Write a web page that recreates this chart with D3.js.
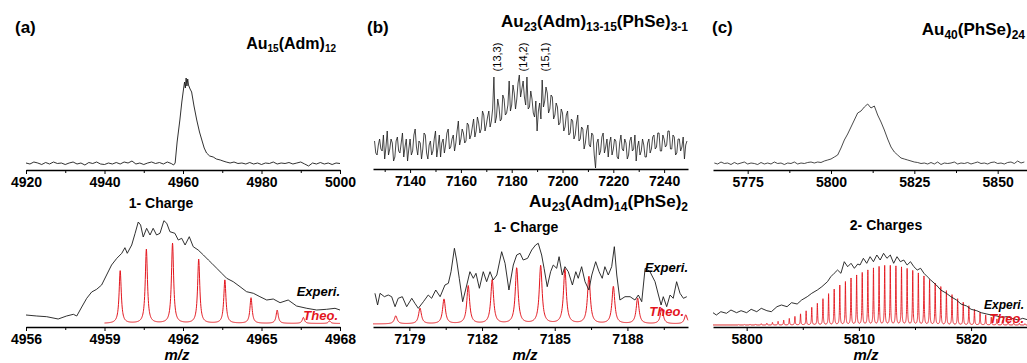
<!DOCTYPE html>
<html>
<head>
<meta charset="utf-8">
<script src="https://cdn.jsdelivr.net/npm/d3@7"></script>
<style>
  body { margin: 0; background: #fff; }
  svg { display: block; font-family: "Liberation Sans", Arial, sans-serif; }
</style>
</head>
<body>
<svg id="chart" width="1027" height="363"></svg>
<script>
// ---- data (intensity in arbitrary units) ----

// (a) top: full-range spectrum of Au15(Adm)12
const aTopTrace = [
  [4920,7],[4921,6],[4922,8],[4923,7],[4924,5.5],[4925,7.5],[4926,6],[4927,8],[4928,6.5],[4929,7],
  [4930,5.5],[4931,7],[4932,8],[4933,6],[4934,7],[4935,5],[4936,7.5],[4937,6.5],[4938,8],[4939,6],
  [4940,5.5],[4941,7],[4942,6],[4943,7.5],[4944,6],[4945,8],[4946,7],[4947,9],[4948,6],[4949,7],
  [4950,5.5],[4951,7],[4952,8],[4953,6.5],[4954,7.5],[4955,6],[4956,8],[4957,6.5],[4957.6,5],[4958,7],
  [4958.5,28],[4959.2,50],[4959.7,68],[4960.1,80],[4960.4,88],[4960.6,82],[4960.8,92],[4961,84],
  [4961.2,91],[4961.4,85],[4961.8,81],[4962.2,78],[4962.8,64],[4963.5,50],[4964.2,38],[4964.8,30],
  [4965.4,22],[4966,17],[4966.8,14],[4967.7,13],[4968.5,11],[4969.5,10],[4970.2,9],[4971,8],
  [4972,7],[4973,8],[4974,6.5],[4975,7],[4976,6],[4977,7.5],[4978,6],[4979,7],[4980,5.5],[4981,7],
  [4982,6.5],[4983,8],[4984,6],[4985,7],[4986,6.5],[4987,7.5],[4988,6],[4989,7],[4990,8],[4991,6],
  [4992,4],[4993,7],[4994,6],[4995,7.5],[4996,6],[4997,7],[4998,5.5],[4999,7],[5000,6.5]
];

// (a) bottom: isotope-resolved, 1- charge
const aExpTrace = [
  [4956,12],[4956.41,11],[4956.79,10.3],[4957.23,8],[4957.55,11],[4957.81,12.7],[4957.94,11],
  [4958.13,20],[4958.32,28.7],[4958.51,35],[4958.7,37.7],[4958.89,42],[4959.08,52],[4959.27,62],
  [4959.47,68.7],[4959.66,73.7],[4959.78,79.3],[4959.87,73.7],[4960.04,82],[4960.17,93.7],
  [4960.29,105],[4960.38,102],[4960.48,90],[4960.61,98.7],[4960.74,92],[4960.86,98.7],[4960.99,92],
  [4961.12,93.7],[4961.27,106.3],[4961.38,103.7],[4961.5,95.3],[4961.69,93.7],[4961.82,87],
  [4961.95,88.7],[4962.08,82],[4962.24,90.3],[4962.39,80.3],[4962.58,77],[4962.78,72],[4962.97,67],
  [4963.1,63.7],[4963.29,58.7],[4963.48,53.7],[4963.67,48.7],[4963.92,45.3],[4964.18,40.3],
  [4964.43,35.3],[4964.69,33.7],[4964.94,30.3],[4965.2,27],[4965.45,28],[4965.71,24.3],[4966.02,27],
  [4966.34,21],[4966.73,18.7],[4967.11,17],[4967.49,17.7],[4967.81,18.7],[4968,17]
];
const aTheoCenters = [4959.6, 4960.6, 4961.6, 4962.6, 4963.6, 4964.6, 4965.6, 4966.6, 4967.6];
const aTheoHeights = [52.6, 74, 80, 64, 43.3, 25.6, 13.3, 6, 2.6];

// (b) top: Au23(Adm)13-15(PhSe)3-1, one point every 0.5 m/z from 7126
const bTopStart = 7126;
const bTopStep = 0.5;
const bTopIntensity = [
  28,16, 14,24, 30,20, 18,34, 10,22, 38,14, 20,30, 26,8, 12,28, 32,18,
  16,26, 36,12, 22,30, 8,20, 30,14, 18,34, 40,22, 14,28, 26,10, 20,36,
  34,16, 10,24, 28,14, 18,30, 38,12, 22,34, 12,26, 30,16, 24,36, 40,20,
  22,30, 34,18, 26,38, 48,24, 30,40, 36,26, 28,46, 44,30, 34,42, 50,32,
  38,52, 46,36, 40,58, 54,38, 44,52, 58,42, 48,60, 92,46, 52,70, 62,48,
  50,74, 70,54, 56,64, 88,58, 64,84, 76,60, 70,86, 94,72, 80,88, 72,64,
  92,60, 62,78, 70,56, 52,68, 38,58, 66,50, 89,62, 68,82, 76,56, 60,74,
  72,50, 54,66, 62,44, 46,60, 56,38, 42,54, 58,34, 36,50, 48,30, 34,46,
  54,28, 30,42, 40,20, 26,38, 44,24, 22,36, 34,14, 1,26, 30,14, 18,32,
  36,16, 22,30, 12,26, 32,14, 20,30, 28,12, 10,26, 34,20, 18,30, 26,10,
  14,28, 32,18, 20,34, 8,22, 28,14, 18,30, 24,12, 12,26, 30,16, 20,32,
  34,20, 22,36, 36,18, 18,34, 30,22, 24,38, 38,20, 20,34, 32,14, 16,30,
  30,18, 22,32, 10,24, 28
];
const bTopLabels = ["(13,3)", "(14,2)", "(15,1)"];
const bTopLabelMz = [7174.4, 7184.5, 7193.1];

// (b) bottom: Au23(Adm)14(PhSe)2, 1- charge
const bExpTrace = [
  [7177.58,33.7],[7177.69,22],[7177.79,33.7],[7177.97,30.3],[7178.13,32],[7178.27,30.3],[7178.41,20.3],
  [7178.54,28.7],[7178.71,30.3],[7178.89,20.3],[7179.1,28.7],[7179.23,23.7],[7179.37,18.7],[7179.58,25.3],
  [7179.78,32],[7179.92,28.7],[7180.09,37],[7180.27,30.3],[7180.47,42],[7180.61,43.7],[7180.72,55.3],
  [7180.86,78.7],[7180.95,67],[7181.06,48.7],[7181.2,25.3],[7181.37,42],[7181.5,55.3],[7181.64,48.7],
  [7181.75,53.7],[7181.89,38.7],[7182.05,55.3],[7182.19,45.3],[7182.33,55.3],[7182.46,47],[7182.61,52],
  [7182.81,75.3],[7182.95,63.7],[7183.11,37],[7183.29,62],[7183.43,72],[7183.57,73.7],[7183.7,67],
  [7183.88,68.7],[7184.05,77],[7184.21,82],[7184.32,83.7],[7184.46,72],[7184.56,58.7],[7184.69,40.3],
  [7184.83,55.3],[7184.94,62],[7185.08,58.7],[7185.18,70.3],[7185.31,52],[7185.42,60.3],[7185.56,55.3],
  [7185.73,42],[7185.87,55.3],[7185.97,48.7],[7186.11,60.3],[7186.25,45.3],[7186.41,37],[7186.53,52],
  [7186.69,65.3],[7186.83,55.3],[7186.96,48.7],[7187.07,60.3],[7187.21,52],[7187.35,60.3],[7187.46,80.3],
  [7187.56,52],[7187.69,27],[7187.9,30.3],[7188.11,30.3],[7188.31,27],[7188.45,32],[7188.59,25.3],
  [7188.73,58.7],[7188.93,55.3],[7189.14,45.3],[7189.28,32],[7189.39,22],[7189.48,30.3],[7189.62,20.3],
  [7189.76,32],[7189.89,28.7],[7190.03,45.3],[7190.17,33.7],[7190.31,28.7],[7190.45,30.3]
];
const bTheoCenters = [7178.44, 7179.44, 7180.43, 7181.43, 7182.42, 7183.43, 7184.42, 7185.42, 7186.41, 7187.42, 7188.42, 7189.42, 7190.41];
const bTheoHeights = [8, 15.7, 24.7, 38, 44, 55.7, 58, 54.7, 47.3, 37.3, 25.7, 15.7, 9];

// (c) top: Au40(PhSe)24, one point per m/z unit from 5765
const cTopStart = 5765;
const cTopIntensity = [
  7,6,8,6.5,7,5.5,7.5,6,7,8, 6,7,6.5,5.5,7.5,6,7,6,8,6.5, 7,5.5,7,6.5,8,6,7,6.5,7.5,8,
  7,8,7.5,9,10,11,13,15,22,30, 36,43,50,57,59,63,66,62,64,55, 48,40,31,23,18,15,12,11,10,9, 8,7.5,
  6.5,7,6,7.5,6,8,5.5,7,6.5,7, 8,6,7,6.5,7.5,6,7,8,6.5,7, 6,7.5,8,6.5,7,6,7.5,8,6.5,9, 7,8
];

// (c) bottom: 2- charges
const cExpTrace = [
  [5797,14.3],[5797.3,12],[5797.7,15.3],[5798.2,13.7],[5798.6,17],[5799.1,14.3],[5799.5,16.3],
  [5800,14.3],[5800.4,17.7],[5800.9,15.3],[5801.3,18.7],[5801.8,16.3],[5802.2,15.3],[5802.7,20.3],
  [5803.1,22],[5803.6,20.3],[5804,24.3],[5804.5,23],[5804.9,27],[5805.4,30.3],[5805.8,33.7],
  [5806.3,37],[5806.7,40.3],[5807.2,45.3],[5807.5,50.3],[5807.8,53.7],[5808.1,57],[5808.4,53.7],
  [5808.7,65.3],[5809,60.3],[5809.3,63.7],[5809.6,58.7],[5809.9,63],[5810.1,62],[5810.4,68.7],
  [5810.7,63.7],[5811,70.3],[5811.3,65.3],[5811.6,72],[5811.9,67],[5812.2,73.7],[5812.5,68.7],
  [5812.8,72],[5813.1,63.7],[5813.4,70.3],[5813.7,65.3],[5814,67],[5814.3,62],[5814.6,65.3],
  [5814.9,60.3],[5815.2,57],[5815.5,58.7],[5815.8,53.7],[5816.1,50.3],[5816.4,47],[5816.9,42],
  [5817.3,37],[5817.8,33.7],[5818.2,30.3],[5818.7,27],[5819.1,23],[5819.6,21],[5820,17.7],
  [5820.5,16.3],[5820.9,14.3],[5821.4,13],[5821.8,12],[5822.3,11],[5822.7,9.7],[5823.2,10.3],
  [5823.6,8.7],[5824.2,7],[5824.6,8.7],[5825.1,7]
];
const cTheoStart = 5799.3;
const cTheoHeights = [
  0.5,0.6,0.8,1.0,1.3,1.8,2.6,3.6,4.8,6.5, 8.5,11,14,17.5,21.5,26,31,35.5,39.5,43,
  46.5,49.5,52,54.5,56.5,58,59,59,58.5,57.5, 56,54,51.5,48.5,45,41.5,38,34,30,26,
  22.5,19,15.5,12.5,10,7.8,6,4.5,3.4,2.5, 1.8,1.3,0.9
];

// ---- drawing ----
const svg = d3.select("#chart");
const EXP_COLOR = "#1a1a1a";
const THEO_COLOR = "#e3151d";

// sums a Lorentzian line shape over the stick peaks, to draw the theoretical pattern
function stickProfile(centers, heights, gamma, x0, x1) {
  const pts = [];
  const step = gamma / 6;
  for (let m = x0; m <= x1 + 1e-9; m += step) {
    let v = 0;
    for (let k = 0; k < centers.length; k++) {
      const d = m - centers[k];
      v += heights[k] * gamma * gamma / (d * d + gamma * gamma);
    }
    pts.push([m, v]);
  }
  return pts;
}

function drawAxis(x, axisY, major, minor) {
  const g = svg.append("g").attr("transform", `translate(0,${axisY})`);
  g.call(d3.axisBottom(x).tickValues(minor).tickSize(3).tickFormat("").tickSizeOuter(0));
  g.select(".domain").remove();
  const ga = svg.append("g").attr("transform", `translate(0,${axisY})`)
    .call(d3.axisBottom(x).tickValues(major).tickSize(4).tickPadding(3)
      .tickFormat(d3.format("d")).tickSizeOuter(0));
  ga.select(".domain").attr("stroke", "#000").attr("stroke-width", 1.3);
  svg.selectAll(".tick line").attr("stroke", "#000").attr("stroke-width", 1);
  ga.selectAll("text")
    .attr("fill", "#000")
    .style("font-size", "14px")
    .style("font-weight", "bold");
}

function drawLine(pts, x, y, color, width) {
  svg.append("path")
    .datum(pts)
    .attr("fill", "none")
    .attr("stroke", color)
    .attr("stroke-width", width)
    .attr("stroke-linejoin", "round")
    .attr("d", d3.line().x(d => x(d[0])).y(d => y(d[1])));
}

function formula(parts, xRight, baseY, size, subSize, subShift) {
  const t = svg.append("text")
    .attr("x", xRight).attr("y", baseY)
    .attr("text-anchor", "end")
    .style("font-weight", "bold")
    .style("font-size", size + "px")
    .attr("fill", "#000");
  let shifted = false;
  parts.forEach(p => {
    const isSub = p[1] === 1;
    const s = t.append("tspan").text(p[0]);
    if (isSub) {
      s.style("font-size", subSize + "px").attr("dy", shifted ? 0 : subShift);
      shifted = true;
    } else {
      s.attr("dy", shifted ? -subShift : 0);
      shifted = false;
    }
  });
}

function label(txt, x, y, opts) {
  const o = Object.assign({ size: 14, weight: "bold", style: "normal", anchor: "middle", color: "#000" }, opts);
  svg.append("text")
    .attr("x", x).attr("y", y)
    .attr("text-anchor", o.anchor)
    .attr("fill", o.color)
    .style("font-size", o.size + "px")
    .style("font-weight", o.weight)
    .style("font-style", o.style)
    .text(txt);
}

function stepTicks(a, b, s) {
  return d3.range(Math.round((b - a) / s) + 1).map(i => +(a + i * s).toFixed(3));
}

function yScale(base) {
  return d3.scaleLinear().domain([0, 100]).range([base, base - 100]);
}

// ----- panel (a) -----
{
  const xTop = d3.scaleLinear().domain([4920, 5000]).range([26, 340]);
  drawLine(aTopTrace, xTop, yScale(170), EXP_COLOR, 0.9);
  drawAxis(xTop, 170, stepTicks(4920, 5000, 20), stepTicks(4930, 4990, 20));

  const xBot = d3.scaleLinear().domain([4956, 4968]).range([26, 340]);
  drawLine(stickProfile(aTheoCenters, aTheoHeights, 0.05, 4959.0, 4968), xBot, yScale(323.5), THEO_COLOR, 1);
  drawLine(aExpTrace, xBot, yScale(327), EXP_COLOR, 0.9);
  drawAxis(xBot, 327, stepTicks(4956, 4968, 3), stepTicks(4957.5, 4966.5, 3));

  label("(a)", 15, 33, { size: 17, anchor: "start" });
  formula([["Au", 0], ["15", 1], ["(Adm)", 0], ["12", 1]], 336, 49, 16, 10, 3);
  label("1- Charge", 161, 208);
  label("Experi.", 340, 296, { size: 13, style: "italic" , anchor: "end"});
  label("Theo.", 338, 320, { size: 13, style: "italic", anchor: "end", color: THEO_COLOR });
  label("m/z", 177, 360, { size: 15, style: "italic" });
}

// ----- panel (b) -----
{
  const xTop = d3.scaleLinear().domain([7125.4, 7249.4]).range([373, 688]);
  const bTopTrace = bTopIntensity.map((v, i) => [bTopStart + i * bTopStep, v]);
  drawLine(bTopTrace, xTop, yScale(169), EXP_COLOR, 0.8);
  drawAxis(xTop, 169, stepTicks(7140, 7240, 20), stepTicks(7130, 7250, 20).filter(v => v <= 7249.4));
  bTopLabels.forEach((t, i) => {
    svg.append("text")
      .attr("transform", `translate(${xTop(bTopLabelMz[i])},57) rotate(-90)`)
      .attr("text-anchor", "middle")
      .attr("dy", "0.35em")
      .style("font-size", "11px")
      .attr("fill", "#000")
      .text(t);
  });

  const xBot = d3.scaleLinear().domain([7177.5, 7190.5]).range([373, 688]);
  drawLine(stickProfile(bTheoCenters, bTheoHeights, 0.07, 7177.5, 7190.5), xBot, yScale(324), THEO_COLOR, 1);
  drawLine(bExpTrace, xBot, yScale(327), EXP_COLOR, 0.9);
  drawAxis(xBot, 327, stepTicks(7179, 7188, 3), stepTicks(7180.5, 7189.5, 3));

  label("(b)", 367, 33, { size: 17, anchor: "start" });
  formula([["Au", 0], ["23", 1], ["(Adm)", 0], ["13-15", 1], ["(PhSe)", 0], ["3-1", 1]], 688, 27, 17, 12, 4);
  formula([["Au", 0], ["23", 1], ["(Adm)", 0], ["14", 1], ["(PhSe)", 0], ["2", 1]], 688, 207, 17, 12, 4);
  label("1- Charge", 526, 232);
  label("Experi.", 688, 272, { size: 13, style: "italic", anchor: "end" });
  label("Theo.", 684, 316, { size: 13, style: "italic", anchor: "end", color: THEO_COLOR });
  label("m/z", 525, 360, { size: 15, style: "italic" });
}

// ----- panel (c) -----
{
  const xTop = d3.scaleLinear().domain([5764.6, 5858.8]).range([713, 1027]);
  const cTopTrace = cTopIntensity.map((v, i) => [cTopStart + i, v]);
  drawLine(cTopTrace, xTop, yScale(170), EXP_COLOR, 0.8);
  drawAxis(xTop, 170, stepTicks(5775, 5850, 25), stepTicks(5787.5, 5837.5, 25));

  const xBot = d3.scaleLinear().domain([5797, 5825]).range([713, 1027.2]);
  const cTheoCenters = cTheoHeights.map((h, i) => cTheoStart + i * 0.5);
  drawLine(stickProfile(cTheoCenters, cTheoHeights, 0.03, 5797, 5825.5), xBot, yScale(325), THEO_COLOR, 0.9);
  drawLine(cExpTrace, xBot, yScale(327), EXP_COLOR, 0.9);
  drawAxis(xBot, 327, stepTicks(5800, 5820, 10), stepTicks(5805, 5825, 10));

  label("(c)", 712, 33, { size: 17, anchor: "start" });
  formula([["Au", 0], ["40", 1], ["(PhSe)", 0], ["24", 1]], 1025, 35, 17, 12, 4);
  label("2- Charges", 886, 230);
  label("Experi.", 1024, 309, { size: 12, style: "italic", anchor: "end" });
  label("Theo.", 1024, 323, { size: 13, style: "italic", anchor: "end", color: THEO_COLOR });
  label("m/z", 866, 360, { size: 15, style: "italic" });
}
</script>
</body>
</html>
